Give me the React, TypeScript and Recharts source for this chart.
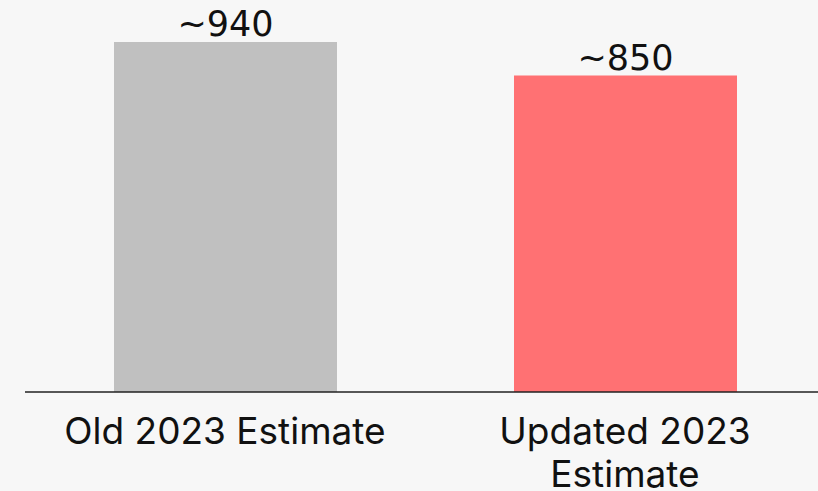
import React from 'react';
import { BarChart, Bar, XAxis, YAxis, Cell, LabelList, Text } from 'recharts';

const categories = ['Old 2023 Estimate', 'Updated 2023 Estimate'];
const values = [940, 850];
const valueLabels = ['~940', '~850'];
const barColors = ['#c0c0c0', '#ff7173'];

const data = categories.map((name, i) => ({ name, value: values[i], label: valueLabels[i] }));

const CategoryTick = (props: any) => {
  const { x, y, payload } = props;
  return (
    <Text
      x={x}
      y={y + 24}
      width={360}
      textAnchor="middle"
      verticalAnchor="start"
      lineHeight={43}
      fill="#111"
      style={{ fontFamily: 'Inter, sans-serif', fontSize: '37px' }}
    >
      {payload.value}
    </Text>
  );
};

const ValueLabel = (props: any) => {
  const { x, y, width, value } = props;
  return (
    <text
      x={x + width / 2}
      y={y - 6}
      textAnchor="middle"
      fill="#111"
      style={{ fontFamily: '"DejaVu Sans", sans-serif', fontSize: 35 }}
    >
      {value}
    </text>
  );
};

export default function App() {
  return (
    <div style={{ width: 818, height: 491, overflow: 'hidden', background: '#f7f7f7' }}>
      <style>{`body { margin: 0; }`}</style>
      <BarChart
        width={825}
        height={491}
        data={data}
        margin={{ top: 42, right: 0, left: 25, bottom: 0 }}
      >
        <YAxis hide domain={[0, 940]} />
        <XAxis
          dataKey="name"
          height={99}
          interval={0}
          tickLine={false}
          tickSize={0}
          axisLine={{ stroke: '#222', strokeWidth: 1.5 }}
          tick={<CategoryTick />}
        />
        <Bar dataKey="value" barSize={223} isAnimationActive={false}>
          {data.map((d, i) => (
            <Cell key={d.name} fill={barColors[i]} />
          ))}
          <LabelList dataKey="label" content={<ValueLabel />} />
        </Bar>
      </BarChart>
    </div>
  );
}
